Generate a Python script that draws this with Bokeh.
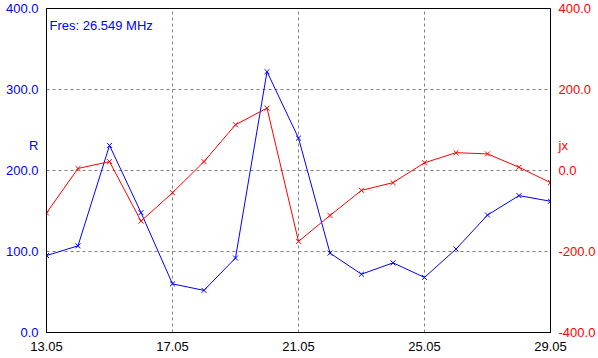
from bokeh.plotting import figure
from bokeh.models import Range1d, LinearAxis, FixedTicker, NumeralTickFormatter, Label
from bokeh.embed import file_html
from bokeh.resources import INLINE

days = list(range(13, 30))
r_vals = [95, 107, 231, 148, 60, 52, 92, 322, 240, 98, 72, 86, 68, 103, 145, 169, 162]
jx_vals = [-105, 5, 22, -125, -55, 22, 113, 154, -175, -111, -49, -30, 19, 44, 41, 8, -30]
x_ticks = [13, 17, 21, 25, 29]
x_tick_labels = ["13.05", "17.05", "21.05", "25.05", "29.05"]
r_ticks = [0, 100, 200, 300, 400]
jx_ticks = [-400, -200, 0, 200, 400]
r_title, r_title_pos = "R", 231
jx_title, jx_title_pos = "jx", 62
fres_text = "Fres: 26.549 MHz"

FONT = "Liberation Sans"
BLUE = "#0000FF"
RED = "#FF0000"

p = figure(width=598, height=358, output_backend="svg", toolbar_location=None,
           x_range=Range1d(13, 29), y_range=Range1d(0, 400),
           min_border_left=46, min_border_right=48, min_border_top=8, min_border_bottom=26)
p.extra_y_ranges = {"jx": Range1d(-400, 400)}
p.background_fill_color = "white"
p.border_fill_color = "white"
p.outline_line_color = "black"
p.outline_line_width = 1

# axes
p.xaxis.ticker = FixedTicker(ticks=x_ticks)
p.xaxis.major_label_overrides = {t: l for t, l in zip(x_ticks, x_tick_labels)}
p.yaxis.ticker = FixedTicker(ticks=r_ticks + [r_title_pos])
p.yaxis.formatter = NumeralTickFormatter(format="0.0")
p.yaxis.major_label_overrides = {r_title_pos: r_title}

right = LinearAxis(y_range_name="jx", ticker=FixedTicker(ticks=jx_ticks + [jx_title_pos]),
                   formatter=NumeralTickFormatter(format="0.0"))
right.major_label_overrides = {jx_title_pos: jx_title}
p.add_layout(right, "right")

for ax, col in ((p.xaxis[0], "black"), (p.yaxis[0], BLUE), (right, RED)):
    ax.major_tick_in = 0
    ax.major_tick_out = 0
    ax.minor_tick_in = 0
    ax.minor_tick_out = 0
    ax.major_label_text_font = FONT
    ax.major_label_text_font_size = "13px"
    ax.major_label_text_color = col
    ax.axis_line_color = "black"
    ax.major_label_standoff = 8
p.xaxis.major_label_standoff = 9

p.xgrid.ticker = FixedTicker(ticks=x_ticks)
p.ygrid.ticker = FixedTicker(ticks=r_ticks)
for g in (p.xgrid[0], p.ygrid[0]):
    g.grid_line_color = "#808080"
    g.grid_line_dash = "3 3"
    g.grid_line_width = 1

# series
p.line(days, r_vals, line_color=BLUE, line_width=1)
p.scatter(days, r_vals, marker="x", size=7, line_color=BLUE, line_width=1)
p.line(days, jx_vals, line_color=RED, line_width=1, y_range_name="jx")
p.scatter(days, jx_vals, marker="x", size=7, line_color=RED, line_width=1, y_range_name="jx")

# label
p.add_layout(Label(x=3, y=307, x_units="screen", y_units="screen",
                   text=fres_text, text_font=FONT, text_font_size="13px",
                   text_color=BLUE, text_baseline="middle", text_align="left"))

open("out.html", "w").write(file_html(p, INLINE))
